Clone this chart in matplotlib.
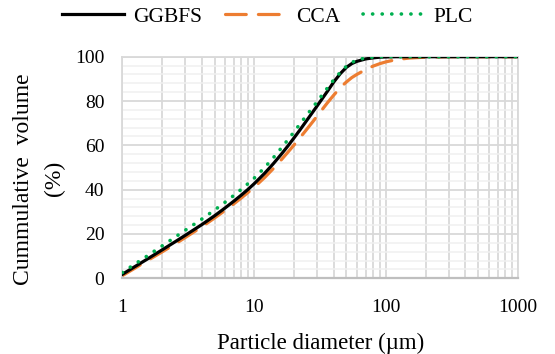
import matplotlib
matplotlib.use("Agg")
import matplotlib.pyplot as plt
from matplotlib.ticker import LogLocator, MultipleLocator, NullFormatter

plt.rcParams['font.family'] = ['Liberation Serif', 'DejaVu Serif']

diameter = [1, 1.2, 1.5, 2, 2.5, 3, 4, 5, 6, 7, 8, 9, 10, 12, 14, 16, 18, 20,
            22, 25, 28, 30, 33, 36, 40, 45, 50, 55, 60, 70, 80, 90, 100, 120,
            150, 200, 300, 500, 1000]
ggbfs = [1.8, 4.7, 8.2, 12.8, 16.4, 19.4, 24.2, 28.2, 31.7, 34.8, 37.6, 40.2,
         42.7, 47.4, 51.8, 55.9, 59.7, 63.3, 66.6, 71.2, 75.3, 77.8, 81.3,
         84.5, 88.5, 92.4, 95.2, 96.9, 97.9, 99.0, 99.5, 99.8, 99.9, 100,
         100, 100, 100, 100, 100]
cca = [1.2, 4.0, 7.5, 11.9, 15.4, 18.4, 23.2, 27.2, 30.6, 33.6, 36.3, 38.8,
       41.1, 45.5, 49.6, 53.4, 56.9, 60.1, 63.1, 67.2, 70.9, 73.2, 76.4, 79.3,
       82.6, 86.1, 88.6, 90.6, 92.0, 94.2, 95.8, 96.9, 97.7, 98.7, 99.4, 99.8,
       100, 100, 100]
plc = [2.6, 5.8, 9.6, 14.6, 18.5, 21.7, 26.7, 30.8, 34.3, 37.4, 40.2, 42.8,
       45.2, 50.0, 54.5, 58.7, 62.5, 66.0, 69.3, 73.6, 77.4, 79.7, 83.0, 86.0,
       89.5, 93.0, 95.7, 97.4, 98.5, 99.5, 99.8, 100, 100, 100, 100, 100,
       100, 100, 100]

fig = plt.figure(figsize=(5.55, 3.54), dpi=100)
ax = fig.add_axes([0.2204, 0.2138, 0.9333 - 0.2204, 0.8398 - 0.2138])

grid_major = '#d9d9d9'
ax.set_xscale('log')
ax.set_xlim(1, 1000)
ax.set_ylim(0, 100)
ax.yaxis.set_major_locator(MultipleLocator(20))
ax.yaxis.set_minor_locator(MultipleLocator(4))
ax.xaxis.set_minor_locator(LogLocator(base=10, subs=range(2, 10)))
ax.xaxis.set_minor_formatter(NullFormatter())
ax.set_xticks([1, 10, 100, 1000])
ax.set_xticklabels(['1', '10', '100', '1000'])

ax.grid(which='major', axis='both', color=grid_major, lw=1.3)
ax.grid(which='minor', axis='x', color=grid_major, lw=1.3)
ax.grid(which='minor', axis='y', color='#f0f0f0', lw=1.1)
ax.set_axisbelow(True)
for s in ax.spines.values():
    s.set_color('#d9d9d9')
    s.set_linewidth(1.3)
ax.spines['bottom'].set_color('#bfbfbf')
ax.spines['bottom'].set_linewidth(1.6)
ax.tick_params(which='both', length=0, labelsize=14)
ax.tick_params(axis='y', pad=13)
ax.tick_params(axis='x', pad=15)

l1, = ax.plot(diameter, ggbfs, color='black', lw=2.3, label='GGBFS', zorder=3)
l2, = ax.plot(diameter, cca, color='#ed7d31', lw=2.3, label='CCA', zorder=2,
              linestyle=(0, (6.5, 3.8)), dash_capstyle='round')
l3, = ax.plot(diameter, plc, color='#00b050', lw=2.6, label='PLC', zorder=4,
              linestyle=(0, (0.05, 2.6)), dash_capstyle='round')

ax.set_xlabel('Particle diameter (µm)', fontsize=16.5, labelpad=12)
fig.text(0.042, 0.495, 'Cummulative  volume', rotation=90, fontsize=17,
         ha='center', va='center')
fig.text(0.099, 0.495, '(%)', rotation=90, fontsize=17, ha='center', va='center')

fig.legend(handles=[l1, l2, l3], loc='center', bbox_to_anchor=(0.482, 0.952),
           ncol=3, frameon=False, fontsize=15.5, handlelength=2.9,
           handletextpad=0.4, columnspacing=1.05)

fig.savefig('out.png', dpi=100)
